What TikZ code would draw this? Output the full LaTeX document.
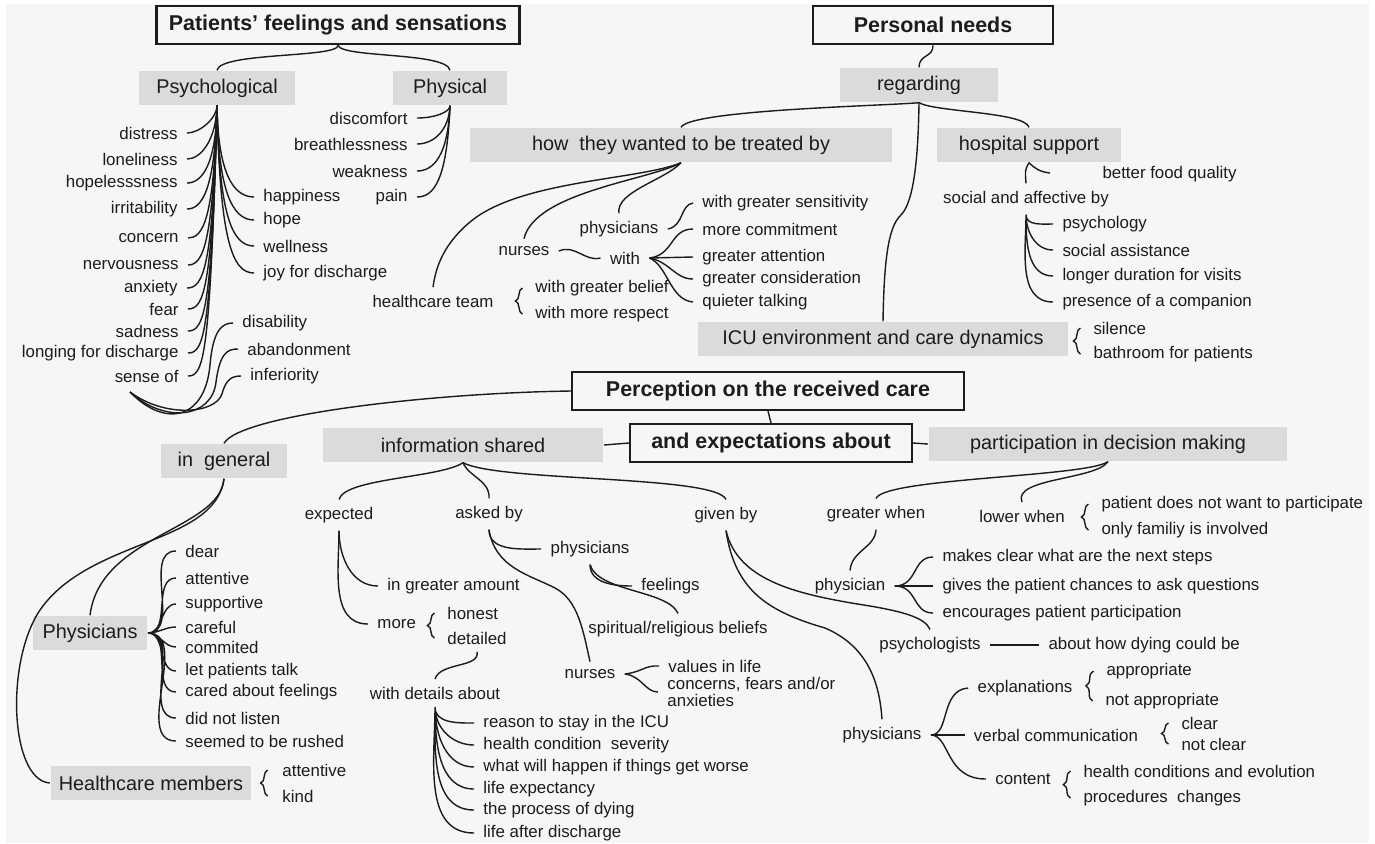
\documentclass[tikz,border=0pt]{standalone}
\usepackage{fontspec}
\setmainfont{Liberation Sans}
\usetikzlibrary{decorations.pathreplacing}
\definecolor{bgc}{RGB}{246,246,246}
\definecolor{boxc}{RGB}{219,219,219}
\definecolor{ink}{RGB}{28,28,28}

\begin{document}
\begin{tikzpicture}[x=0.02cm, y=-0.02cm, thick, color=ink,
    title/.style={draw, line width=1.3pt, font=\bfseries\fontsize{12.2}{14}\selectfont, minimum height=0.77cm, inner sep=0pt},
    group/.style={fill=boxc, font=\fontsize{11.3}{13}\selectfont, minimum height=0.68cm, inner sep=0pt},
    item/.style={font=\fontsize{9.6}{11}\selectfont, inner xsep=5pt, inner ysep=4pt},
    curly/.style={decorate, decoration={brace, amplitude=4pt}}]

    \useasboundingbox (0,0) rectangle (1375,843);
    \fill[white] (0,0) rectangle (1375,843);
    \fill[bgc] (6,4) rectangle (1369,843);

    % patients' feelings and sensations
    \node[title, minimum width=7.26cm] (pfs) at (338,25) {Patients’ feelings and sensations};
    \node[group, minimum width=3.14cm] (psy) at (217,88) {Psychological};
    \node[group, minimum width=2.28cm] (phy) at (450,88) {Physical};

    \node[item, anchor=east] (s1) at (187,133) {distress};
    \node[item, anchor=east] (s2) at (187,159) {loneliness};
    \node[item, anchor=east] (s3) at (187,183) {hopelesssness};
    \node[item, anchor=east] (s4) at (187,209) {irritability};
    \node[item, anchor=east] (s5) at (188,238) {concern};
    \node[item, anchor=east] (s6) at (188,265) {nervousness};
    \node[item, anchor=east] (s7) at (187,288) {anxiety};
    \node[item, anchor=east] (s8) at (188,309) {fear};
    \node[item, anchor=east] (s9) at (188,331) {sadness};
    \node[item, anchor=east] (s10) at (188,353) {longing for discharge};
    \node[item, anchor=east] (s11) at (188,376) {sense of};

    \node[item, anchor=west] (r1) at (254,197) {happiness};
    \node[item, anchor=west] (r2) at (254,220) {hope};
    \node[item, anchor=west] (r3) at (254,246) {wellness};
    \node[item, anchor=west] (r4) at (254,273) {joy for discharge};

    \node[item, anchor=west] (f1) at (233,323) {disability};
    \node[item, anchor=west] (f2) at (238,349) {abandonment};
    \node[item, anchor=west] (f3) at (241,376) {inferiority};
    \coordinate (sb) at (130,392);

    \node[item, anchor=east] (h1) at (417,118) {discomfort};
    \node[item, anchor=east] (h2) at (417,144) {breathlessness};
    \node[item, anchor=east] (h3) at (417,171) {weakness};
    \node[item, anchor=east] (h4) at (417,197) {pain};

    \draw (pfs.south) .. controls (338,58) and (220,52) .. (psy.north);
    \draw (pfs.south) .. controls (342,58) and (447,52) .. (phy.north);

    \draw (psy.south) .. controls (217,118) and (200,133) .. (s1.east);
    \draw (psy.south) .. controls (216,140) and (201,159) .. (s2.east);
    \draw (psy.south) .. controls (216,165) and (202,183) .. (s3.east);
    \draw (psy.south) .. controls (215,190) and (202,209) .. (s4.east);
    \draw (psy.south) .. controls (214,220) and (203,238) .. (s5.east);
    \draw (psy.south) .. controls (213,245) and (203,265) .. (s6.east);
    \draw (psy.south) .. controls (213,270) and (203,288) .. (s7.east);
    \draw (psy.south) .. controls (212,290) and (204,309) .. (s8.east);
    \draw (psy.south) .. controls (212,312) and (204,331) .. (s9.east);
    \draw (psy.south) .. controls (211,335) and (204,353) .. (s10.east);
    \draw (psy.south) .. controls (210,358) and (204,376) .. (s11.east);
    \draw (psy.south) .. controls (218,170) and (232,197) .. (r1.west);
    \draw (psy.south) .. controls (218,190) and (232,220) .. (r2.west);
    \draw (psy.south) .. controls (219,215) and (232,246) .. (r3.west);
    \draw (psy.south) .. controls (220,240) and (232,273) .. (r4.west);
    \draw (phy.south) .. controls (450,112) and (435,118) .. (h1.east);
    \draw (phy.south) .. controls (449,130) and (434,144) .. (h2.east);
    \draw (phy.south) .. controls (448,155) and (434,171) .. (h3.east);
    \draw (phy.south) .. controls (447,180) and (434,197) .. (h4.east);
    \draw (sb) .. controls (165,428) and (205,420) .. (210,365) .. controls (213,330) and (222,323) .. (f1.west);
    \draw (sb) .. controls (165,424) and (212,418) .. (216,382) .. controls (220,352) and (228,349) .. (f2.west);
    \draw (sb) .. controls (165,418) and (215,414) .. (222,394) .. controls (226,379) and (232,376) .. (f3.west);

    % personal needs
    \node[title, minimum width=4.8cm] (pn) at (933,25) {Personal needs};
    \node[group, minimum width=3.16cm] (reg) at (919,85) {regarding};
    \node[group, minimum width=8.44cm] (how) at (681,145) {how\ \ they wanted to be treated by};
    \node[group, minimum width=3.68cm] (hos) at (1029,145) {hospital support};
    \node[group, minimum width=7.42cm] (icu) at (883,339) {ICU environment and care dynamics};

    \draw (pn.south) .. controls (933,58) and (919,54) .. (reg.north);
    \draw (reg.south) .. controls (880,106) and (690,110) .. (how.north);
    \draw (reg.south) .. controls (935,112) and (1025,112) .. (hos.north);
    \draw (reg.south) .. controls (918,170) and (912,205) .. (900,216) .. controls (888,228) and (884,262) .. (icu.north);

    \node[item] (ht) at (433,301) {healthcare team};
    \node[item] (nur) at (524,251) {nurses};
    \node[item] (phs1) at (619,229) {physicians};
    \node[item] (with) at (625,258) {with};
    \node[item, anchor=west] (w1) at (693,203) {with greater sensitivity};
    \node[item, anchor=west] (w2) at (693,229) {more commitment};
    \node[item, anchor=west] (w3) at (693,257) {greater attention};
    \node[item, anchor=west] (w4) at (693,279) {greater consideration};
    \node[item, anchor=west] (w5) at (693,302) {quieter talking};
    \node[item, anchor=west] (t1) at (526,288) {with greater belief};
    \node[item, anchor=west] (t2) at (526,314) {with more respect};

    \draw (how.south) .. controls (640,180) and (520,180) .. (470,222) .. controls (445,243) and (436,265) .. (ht.north);
    \draw (how.south) .. controls (650,180) and (535,192) .. (nur.north);
    \draw (how.south) .. controls (665,180) and (615,192) .. (phs1.north);
    \draw (nur.east) .. controls (575,244) and (585,262) .. (with.west);
    \draw (phs1.east) .. controls (684,226) and (680,205) .. (w1.west);
    \draw (with.east) .. controls (674,255) and (670,229) .. (w2.west);
    \draw (with.east) -- (w3.west);
    \draw (with.east) .. controls (670,262) and (675,279) .. (w4.west);
    \draw (with.east) .. controls (668,266) and (670,300) .. (w5.west);
    \draw[curly] ([xshift=-2pt]t2.west) -- ([xshift=-2pt]t1.west);

    \node[item] (saf) at (1026,199) {social and affective by};
    \node[item, anchor=west] (bfq) at (1093,174) {better food quality};
    \coordinate (bfqe) at (1050,173);
    \node[item, anchor=west] (a1) at (1053,224) {psychology};
    \node[item, anchor=west] (a2) at (1053,250) {social assistance};
    \node[item, anchor=west] (a3) at (1053,276) {longer duration for visits};
    \node[item, anchor=west] (a4) at (1053,302) {presence of a companion};
    \node[item, anchor=west] (c1) at (1084,328) {silence};
    \node[item, anchor=west] (c2) at (1084,354) {bathroom for patients};

    \draw (hos.south) .. controls (1025,170) .. (saf.north);
    \draw (hos.south) .. controls (1034,168) and (1040,172) .. (bfqe);
    \draw (saf.south) to[out=-90,in=180] (a1.west) (saf.south) to[out=-90,in=180] (a2.west)
          (saf.south) to[out=-90,in=180] (a3.west) (saf.south) to[out=-90,in=180] (a4.west);
    \draw[curly] ([xshift=-2pt]c2.west) -- ([xshift=-2pt]c1.west);

    % perception on the received care
    \node[title, minimum width=7.84cm, minimum height=0.76cm] (per) at (768,391) {Perception on the received care};
    \node[title, minimum width=5.64cm, minimum height=0.76cm] (exp) at (771,443) {and expectations about};
    \node[group, minimum width=5.62cm] (inf) at (463,445) {information shared};
    \node[group, minimum width=7.18cm] (par) at (1108,444) {participation in decision making};
    \node[group, minimum width=2.52cm] (gen) at (224,461) {in\ \ general};

    \draw (per.south) -- (exp.north);
    \draw (inf.east) -- (exp.west);
    \draw (exp.east) -- (par.west);
    \draw (per.west) .. controls (430,393) and (240,415) .. (gen.north);

    % in general
    \node[group, minimum width=2.28cm] (phg) at (90,633) {Physicians};
    \node[group, minimum width=4.02cm] (hcm) at (151,783) {Healthcare members};
    \node[item, anchor=west] (g1) at (176,551) {dear};
    \node[item, anchor=west] (g2) at (176,578) {attentive};
    \node[item, anchor=west] (g3) at (176,604) {supportive};
    \node[item, anchor=west] (g4) at (176,627) {careful};
    \node[item, anchor=west] (g5) at (176,647) {commited};
    \node[item, anchor=west] (g6) at (176,671) {let patients talk};
    \node[item, anchor=west] (g7) at (176,692) {cared about feelings};
    \node[item, anchor=west] (g8) at (176,718) {did not listen};
    \node[item, anchor=west] (g9) at (176,741) {seemed to be rushed};
    \node[item, anchor=west] (m1) at (273,770) {attentive};
    \node[item, anchor=west] (m2) at (273,796) {kind};

    \draw (gen.south) .. controls (220,530) and (100,535) .. (phg.north);
    \draw (gen.south) .. controls (215,545) and (90,538) .. (40,610) .. controls (5,662) and (10,780) .. (hcm.west);
    \draw (phg.east) to[out=0,in=180] (g1.west) (phg.east) to[out=0,in=180] (g2.west)
          (phg.east) to[out=0,in=180] (g3.west) (phg.east) to[out=0,in=180] (g4.west)
          (phg.east) to[out=0,in=180] (g5.west) (phg.east) to[out=0,in=180] (g6.west)
          (phg.east) to[out=0,in=180] (g7.west) (phg.east) to[out=0,in=180] (g8.west)
          (phg.east) to[out=0,in=180] (g9.west);
    \draw[curly] ([xshift=-3pt]m2.west) -- ([xshift=-3pt]m1.west);

    % information shared
    \node[item] (expd) at (339,515) {expected};
    \node[item] (ask) at (489,514) {asked by};
    \node[item] (giv) at (726,515) {given by};
    \draw (inf.south) .. controls (440,478) and (345,478) .. (expd.north);
    \draw (inf.south) .. controls (470,478) and (490,480) .. (ask.north);
    \draw (inf.south) .. controls (500,482) and (715,475) .. (giv.north);

    \node[item, anchor=west] (e1) at (378,586) {in greater amount};
    \node[item, anchor=west] (e2) at (368,624) {more};
    \node[item, anchor=west] (e3) at (438,613) {honest};
    \node[item, anchor=west] (e4) at (438,638) {detailed};
    \node[item] (wda) at (435,693) {with details about};
    \node[item, anchor=west] (d1) at (474,723) {reason to stay in the ICU};
    \node[item, anchor=west] (d2) at (474,745) {health condition\ \ severity};
    \node[item, anchor=west] (d3) at (474,767) {what will happen if things get worse};
    \node[item, anchor=west] (d4) at (474,789) {life expectancy};
    \node[item, anchor=west] (d5) at (474,810) {the process of dying};
    \node[item, anchor=west] (d6) at (474,833) {life after discharge};

    \draw (expd.south) to[out=-90,in=180] (e1.west);
    \draw (expd.south) to[out=-90,in=180] (e2.west);
    \draw[curly] ([xshift=-2pt]e4.west) -- ([xshift=-2pt]e3.west);
    \draw (e4.south) .. controls (480,668) and (440,662) .. (wda.north);
    \draw (wda.south) to[out=-90,in=180] (d1.west) (wda.south) to[out=-90,in=180] (d2.west)
          (wda.south) to[out=-90,in=180] (d3.west) (wda.south) to[out=-90,in=180] (d4.west)
          (wda.south) to[out=-90,in=180] (d5.west) (wda.south) to[out=-90,in=180] (d6.west);

    \node[item] (phs2) at (590,549) {physicians};
    \node[item, anchor=west] (k1) at (632,586) {feelings};
    \node[item] (k2) at (678,629) {spiritual/religious beliefs};
    \node[item] (nur2) at (590,674) {nurses};
    \node[item, anchor=west] (n1) at (659,666) {values in life};
    \node[item, anchor=west, align=left, font=\fontsize{9.6}{9.2}\selectfont] (n2) at (658,692) {concerns, fears and/or\\anxieties};

    \draw (ask.south) to[out=-90,in=180] (phs2.west);
    \draw (ask.south) .. controls (495,568) and (530,575) .. (555,588) .. controls (578,600) and (583,630) .. (nur2.north);
    \draw (phs2.south) to[out=-90,in=180] (k1.west);
    \draw (phs2.south) .. controls (598,592) and (668,590) .. (k2.north);
    \draw (nur2.east) .. controls (642,672) and (645,665) .. (n1.west);
    \draw (nur2.east) .. controls (642,676) and (645,692) .. (n2.west);

    \node[item] (psl) at (930,645) {psychologists};
    \node[item, anchor=west] (psd) at (1039,645) {about how dying could be};
    \node[item] (phs3) at (882,735) {physicians};
    \node[item] (ex) at (1025,688) {explanations};
    \node[item] (vc) at (1056,735) {verbal communication};
    \node[item] (ct) at (1023,779) {content};
    \node[item, anchor=west] (x1) at (1097,671) {appropriate};
    \node[item, anchor=west] (x2) at (1096,701) {not appropriate};
    \node[item, anchor=west] (v1) at (1172,723) {clear};
    \node[item, anchor=west] (v2) at (1172,744) {not clear};
    \node[item, anchor=west] (o1) at (1074,771) {health conditions and evolution};
    \node[item, anchor=west] (o2) at (1074,798) {procedures\ \ changes};

    \draw (giv.south) .. controls (738,582) and (800,595) .. (870,606) .. controls (905,612) and (925,618) .. (psl.north);
    \draw (giv.south) .. controls (735,592) and (770,612) .. (825,628) .. controls (872,648) and (880,690) .. (phs3.north);
    \draw (psl.east) -- (psd.west);
    \draw (phs3.east) .. controls (950,735) and (940,690) .. (ex.west);
    \draw (phs3.east) -- (vc.west);
    \draw (phs3.east) .. controls (950,735) and (945,779) .. (ct.west);
    \draw[curly] ([xshift=-2pt]x2.west) -- ([xshift=-2pt]x1.west);
    \draw[curly] ([xshift=-2pt]v2.west) -- ([xshift=-2pt]v1.west);
    \draw[curly] ([xshift=-2pt]o2.west) -- ([xshift=-2pt]o1.west);

    % participation in decision making
    \node[item] (gw) at (876,514) {greater when};
    \node[item] (lw) at (1022,516) {lower when};
    \node[item, anchor=west] (l1) at (1092,504) {patient does not want to participate};
    \node[item, anchor=west] (l2) at (1092,530) {only familiy is involved};
    \node[item] (phs4) at (850,586) {physician};
    \node[item, anchor=west] (q1) at (933,557) {makes clear what are the next steps};
    \node[item, anchor=west] (q2) at (933,586) {gives the patient chances to ask questions};
    \node[item, anchor=west] (q3) at (933,613) {encourages patient participation};

    \draw (par.south) .. controls (1085,477) and (885,478) .. (gw.north);
    \draw (par.south) .. controls (1095,480) and (1012,478) .. (lw.north);
    \draw[curly] ([xshift=-2pt]l2.west) -- ([xshift=-2pt]l1.west);
    \draw (gw.south) .. controls (875,548) and (852,550) .. (phs4.north);
    \draw (phs4.east) .. controls (918,586) and (912,557) .. (q1.west);
    \draw (phs4.east) -- (q2.west);
    \draw (phs4.east) .. controls (918,586) and (912,613) .. (q3.west);
\end{tikzpicture}
\end{document}
